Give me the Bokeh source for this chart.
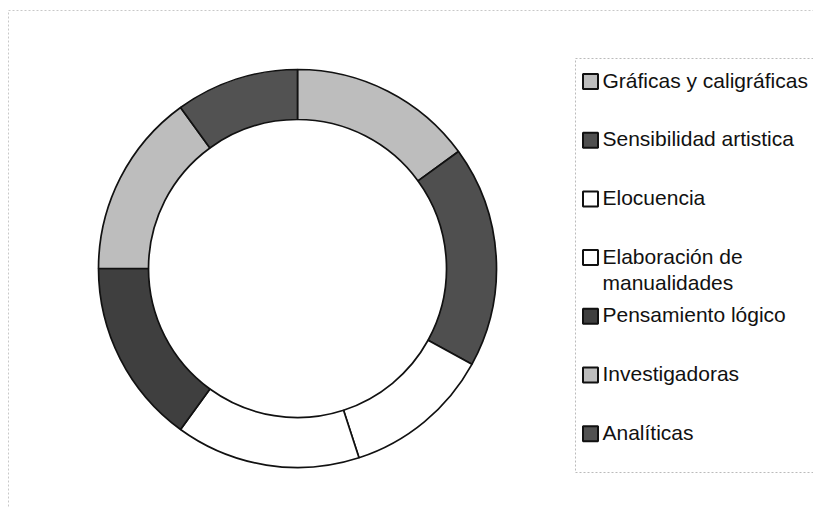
from math import pi
import numpy as np
from bokeh.plotting import figure
from bokeh.models import Range1d, ColumnDataSource
from bokeh.core.properties import value
from bokeh.embed import file_html
from bokeh.resources import INLINE

categories = ["Gráficas y caligráficas", "Sensibilidad artistica", "Elocuencia",
              "Elaboración de\nmanualidades", "Pensamiento lógico", "Investigadoras", "Analíticas"]
values = [15, 18, 12, 15, 15, 15, 10]
colors = ["#bdbdbd", "#4f4f4f", "#ffffff", "#ffffff", "#3f3f3f", "#bdbdbd", "#525252"]

W, H = 813, 507
p = figure(width=W, height=H, output_backend="svg", toolbar_location=None,
           x_range=Range1d(0, W), y_range=Range1d(0, H), min_border=0)
p.axis.visible = False
p.grid.visible = False
p.outline_line_color = None
p.background_fill_color = "white"
p.border_fill_color = "white"

def Y(y):
    return H - y

# faint outer frame (left and top edges visible)
p.quad(left=8, right=W + 20, top=Y(10), bottom=Y(H + 20), fill_color=None,
       line_color="#c8c8c8", line_dash="2 2", line_width=1)

vals = np.array(values, dtype=float)
frac = vals / vals.sum()
cum = np.concatenate([[0], np.cumsum(frac)])
start = pi / 2 - cum[:-1] * 2 * pi
end = pi / 2 - cum[1:] * 2 * pi
src = ColumnDataSource(dict(start=start, end=end, color=colors, cat=categories))

cx, cy = 297, Y(268)
p.annular_wedge(x=cx, y=cy, inner_radius=149, outer_radius=199,
                inner_radius_units="screen", outer_radius_units="screen",
                start_angle="start", end_angle="end", direction="clock",
                fill_color="color", line_color="#111111", line_width=1.7, source=src)

# legend frame
lx0, ly0, ly1 = 575, 58, 472
p.quad(left=lx0, right=W + 20, top=Y(ly0), bottom=Y(ly1), fill_color=None,
       line_color="#bbbbbb", line_dash="2 2", line_width=1)

n = len(categories)
step = 58.7
sy = [Y(81 + i * step) for i in range(n)]
ty = [Y(68 + i * step) for i in range(n)]
lsrc = ColumnDataSource(dict(x=[590] * n, y=sy, tx=[602] * n, ty=ty,
                             color=colors, cat=categories))
p.scatter(x="x", y="y", marker="square", size=15, fill_color="color",
          line_color="#111111", line_width=2, source=lsrc)
p.text(x="tx", y="ty", text="cat", source=lsrc, text_font=value("Liberation Sans"),
       text_font_size="21px", text_baseline="top", text_align="left",
       text_color="#111111", text_line_height=1.14)

open("out.html", "w").write(file_html(p, INLINE))
